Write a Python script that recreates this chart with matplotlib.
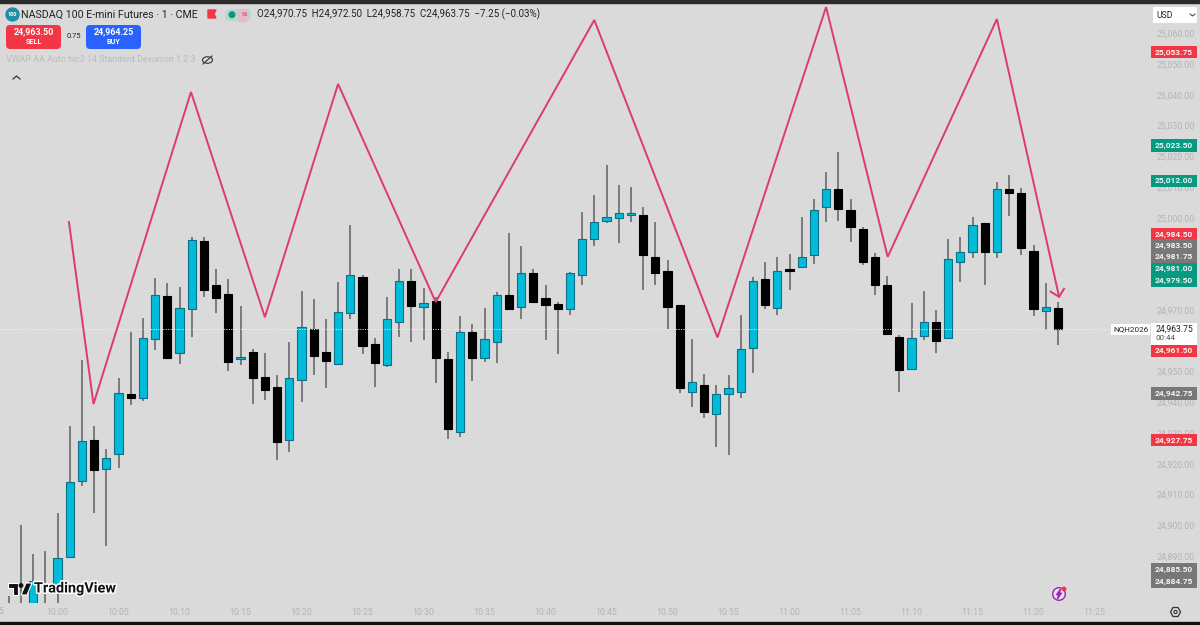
import matplotlib
matplotlib.use("Agg")
import matplotlib.pyplot as plt
import matplotlib.patheffects as pe
from matplotlib.patches import Rectangle, FancyBboxPatch, Circle, Ellipse, Polygon

plt.rcParams['font.family'] = ['Roboto', 'DejaVu Sans']

# minutes after 10:00, one bar per minute
first_minute = -4

opens = [24872, 24873, 24866, 24868, 24880.5,
    24889.75, 24914.5, 24927.75, 24918.25, 24923.25, 24942.75, 24941.5, 24960.75, 24974.5, 24956,
    24970.5, 24992.5, 24978, 24975.25, 24954.25, 24956.5, 24948.25, 24945, 24927.75, 24947.25,
    24963.75, 24956.5, 24952.5, 24969, 24980.75, 24959, 24952, 24966, 24979.5, 24971,
    24973, 24954.25, 24930.5, 24963, 24954.5, 24959.5, 24975, 24971, 24982, 24974,
    24972, 24970.5, 24981.5, 24993, 24999, 25000, 25001, 25001, 24987.25, 24982.75,
    24971.5, 24943.5, 24945.75, 24936.25, 24942.75, 24943.5, 24957.75, 24980.25, 24970.75, 24983.5,
    24984, 24987.75, 25003.5, 25009.25, 25002.5, 24996.25, 24987.25, 24978, 24961.25, 24951,
    24961.5, 24966.25, 24961, 24985.5, 24988.75, 24998.25, 24989, 25009.5, 25008, 24989.25,
    24969.75, 24970.75]
highs = [24877, 24900, 24890.75, 24891.75, 24904,
    24932.25, 24953.75, 24932.25, 24924.75, 24947.75, 24963, 24967.5, 24980.5, 24978.75, 24977.5,
    24993.75, 24993.75, 24983.25, 24980, 24971.25, 24957.5, 24956, 24949, 24959.5, 24976.25,
    24973.75, 24967, 24979.25, 24997.75, 24981.5, 24961, 24974.25, 24983.5, 24983.25, 24977.25,
    24974.25, 24956.5, 24968, 24965.5, 24970.75, 24976, 24995, 24990.75, 24983.5, 24978,
    24972.75, 24982.5, 25001.75, 25007.5, 25017.25, 25010.5, 25010, 25003.5, 24998.5, 24986.25,
    24971.5, 24960.5, 24949.25, 24945.5, 24949, 24968.5, 24980.75, 24985.5, 24987.25, 24988.25,
    25000.25, 25006, 25015, 25021.5, 25006.25, 24997, 24988.5, 24981, 24961.75, 24972.25,
    24976.25, 24970, 24993.25, 24993.75, 25000.25, 24998.25, 25011.75, 25014, 25009.75, 24991.25,
    24978.75, 24972.5]
lows = [24862, 24870, 24864, 24866, 24872,
    24889.75, 24912.75, 24904, 24893.25, 24918.5, 24939, 24940.5, 24957, 24954.5, 24952.5,
    24961.25, 24974.25, 24969, 24950.25, 24952, 24939.5, 24940.75, 24921.25, 24924, 24940.25,
    24949, 24944.75, 24952.5, 24967, 24955.75, 24945, 24951.5, 24961.25, 24959.5, 24960.25,
    24946.25, 24928, 24928.75, 24947, 24953, 24952.75, 24970.5, 24967.25, 24972.75, 24960.25,
    24955.75, 24968.5, 24978, 24990.75, 24998.25, 24991.75, 24998.75, 24976.5, 24978.25, 24964,
    24943, 24938.5, 24934.75, 24925.5, 24922.75, 24941.5, 24949.5, 24970.5, 24968.25, 24976.5,
    24984, 24985, 24998.5, 24999, 24992, 24984.75, 24974.75, 24962.25, 24943.5, 24950.5,
    24960.25, 24956, 24960.5, 24979, 24987, 24978.25, 24987, 25000.5, 24988, 24968,
    24963.5, 24958.75]
closes = [24868, 24871, 24882, 24873, 24889.5,
    24914.25, 24927.5, 24918, 24921.75, 24943, 24941.5, 24961, 24975, 24954.5, 24970.75,
    24992.75, 24976.5, 24974, 24953.25, 24954.75, 24948, 24944, 24927.25, 24948, 24964.5,
    24955, 24953.5, 24969.5, 24981.25, 24958.25, 24952.75, 24967.25, 24979.5, 24971.25, 24972.25,
    24954.5, 24931.25, 24963, 24954.5, 24960.75, 24975, 24970.5, 24982, 24972.75, 24971.75,
    24970.5, 24982, 24993, 24998.5, 25000.25, 25001.5, 25001.5, 24988, 24982, 24971,
    24944.5, 24946.5, 24936.75, 24942.75, 24944.5, 24957.25, 24979.5, 24971.5, 24982.75, 24982.75,
    24987.25, 25002.5, 25009.25, 25002.75, 24997, 24985.75, 24978.25, 24962.25, 24950.5, 24961,
    24966.25, 24960, 24986.5, 24988.75, 24997.5, 24988.75, 25009.25, 25008, 24990.25, 24970.25,
    24971, 24963.75]

# hand drawn zigzag and its arrow head
zz_min = [0.94, 2.95, 10.94, 17, 23, 31, 44, 54.1, 63, 68.05, 77, 82.1]
zz_price = [24998.6, 24939.45, 25040.9, 24967.7, 25043.5, 24972.6, 25064.3, 24961.1, 25068.5, 24987.3, 25064.6, 24974.3]
head_min = [81.4, 82.1, 82.5]
head_price = [24976, 24974.3, 24976.9]

# 24,990 24,980 and 24,960 sit fully behind the price tags in the reference
y_ticks = [25060, 25050, 25040, 25030, 25020, 25010, 25000, 24970, 24950, 24940, 24930, 24920, 24910, 24900, 24890]
x_ticks = list(range(0, 90, 5))
x_labels = [f"{10 + m//60}:{m%60:02d}" for m in x_ticks]

tag_values = [25053.75, 25023.50, 25012.00, 24984.50, 24983.50, 24981.75, 24981.00, 24979.50,
              24961.50, 24942.75, 24927.75, 24885.50, 24884.75]
tag_kinds = ["sell", "buy", "buy", "sell", "gray", "gray", "buy", "buy",
             "sell", "gray", "sell", "gray", "gray"]
# the platform stacks the tags so they do not overlap, so these are pixel rows
tag_rows = [52, 145.5, 181, 234, 245.5, 257, 269, 281, 351, 393.5, 440, 569.5, 581.5]

BG = "#dadada"
TEAL = "#00bcd9"
TEAL_EDGE = "#0d6f86"
PINK = "#de3a6c"
TICK = "#b4b4b4"
SELL = "#f23645"
BUY_BLUE = "#2962ff"
TAG_COL = {"sell": SELL, "buy": "#089981", "gray": "#787878"}

fig = plt.figure(figsize=(12, 6.25), dpi=100, facecolor=BG)

# price pane: pixel x 0..1150, y 3..603
ax = fig.add_axes([0, (625-603)/625, 1150/1200, 600/625], facecolor=BG)
ax.set_xlim(-57.5/12.2, (1150-57.5)/12.2)
ax.set_ylim(25070.8 - 603*0.3251, 25070.8 - 3*0.3251)
for s in ax.spines.values():
    s.set_visible(False)

minutes = [first_minute + i for i in range(len(opens))]
for m, o, h, l, c in zip(minutes, opens, highs, lows, closes):
    up = c >= o
    ax.vlines(m, l, h, color="#606060", lw=1.1, zorder=2)
    ax.bar(m, abs(c-o), bottom=min(o, c), width=0.68, color=TEAL if up else "black",
           edgecolor=TEAL_EDGE if up else "black", lw=0.8, zorder=3)

ax.axhline(closes[-1], color="#f2f2f2", lw=0.7, ls=(0, (1, 1.5)), zorder=4)
ax.plot(zz_min, zz_price, color=PINK, lw=1.4, zorder=5, solid_joinstyle="miter")
ax.plot(head_min, head_price, color=PINK, lw=1.4, zorder=5)

ax.yaxis.tick_right()
ax.set_yticks(y_ticks)
ax.set_yticklabels([f"{v:,.2f}" for v in y_ticks], color=TICK, fontsize=6.3)
ax.set_xticks(x_ticks)
ax.set_xticklabels(x_labels, color=TICK, fontsize=6.3)
ax.tick_params(axis="both", length=0)
ax.tick_params(axis="y", pad=5)
ax.tick_params(axis="x", pad=3.5)

# everything that belongs to the platform window, in pixels
ui = fig.add_axes([0, 0, 1, 1], facecolor="none")
ui.set_xlim(0, 1200)
ui.set_ylim(625, 0)
ui.axis("off")

ui.add_patch(Rectangle((0, 0), 1200, 3, color="#2b2b2b"))
ui.add_patch(Rectangle((0, 622), 1200, 3, color="#111111"))
ui.text(-3.5, 612, "9:55", color=TICK, fontsize=6.3, ha="center", va="center")

def box(x0, y0, w, h, col, r=2):
    ui.add_patch(FancyBboxPatch((x0+r, y0+r), w-2*r, h-2*r, boxstyle=f"round,pad={r},rounding_size={r}",
                                fc=col, ec="none", mutation_aspect=1))

# header
ui.add_patch(Circle((12.5, 14.5), 6.5, color="#1e8fa8"))
ui.text(12.5, 14.7, "100", color="white", fontsize=4, fontweight="bold", ha="center", va="center")
ui.text(21, 14.5, "NASDAQ 100 E-mini Futures · 1 · CME", color="#222222", fontsize=7.7, va="center")
ui.add_patch(Polygon([(208, 10), (216, 10), (214, 14), (216, 18), (208, 18)], color=SELL))
box(225, 9, 26, 12, "#b5d8cf", r=5)
ui.add_patch(Rectangle((238, 9), 8, 12, color="#e8b9c6"))
ui.add_patch(Circle((232, 14.7), 2.8, color="#089981"))
ui.text(244, 14.5, "≈", color="#c23a5e", fontsize=7, ha="center", va="center")
ui.text(257, 14.5, "O24,970.75  H24,972.50  L24,958.75  C24,963.75  −7.25 (−0.03%)", color="#222222",
        fontsize=7.05, va="center")

box(6, 25, 55, 24, SELL, r=4)
ui.text(33.5, 32, "24,963.50", color="white", fontsize=6.4, fontweight="bold", ha="center", va="center")
ui.text(33.5, 41.5, "SELL", color="white", fontsize=5.2, fontweight="bold", ha="center", va="center")
ui.text(73.5, 37, "0.75", color="#222222", fontsize=5.4, ha="center", va="center")
box(86, 25, 55, 24, BUY_BLUE, r=4)
ui.text(113.5, 32, "24,964.25", color="white", fontsize=6.4, fontweight="bold", ha="center", va="center")
ui.text(113.5, 41.5, "BUY", color="white", fontsize=5.2, fontweight="bold", ha="center", va="center")

ui.text(6, 60, "VWAP AA Auto hlc3 14 Standard Deviation 1 2 3", color="#bcbcbc", fontsize=6.4, va="center")
ui.add_patch(Ellipse((207.5, 60), 10, 6.5, fc="none", ec="#333333", lw=0.8))
ui.plot([203, 212], [64, 56], color="#333333", lw=0.8)
ui.plot([13, 16.5, 20], [79, 76, 79], color="#333333", lw=0.9)

# USD box
box(1153, 7, 44, 16, "white", r=1)
ui.text(1156, 15, "USD", color="#222222", fontsize=6.2, va="center")
ui.plot([1190, 1192.5, 1195], [14, 16, 14], color="#333333", lw=0.7)

# price tags
for v, kind, row in zip(tag_values, tag_kinds, tag_rows):
    ui.add_patch(Rectangle((1151, row-6.2), 45.5, 12.4, color=TAG_COL[kind], lw=0))
    ui.text(1174, row, f"{v:,.2f}", color="white", fontsize=6.0, fontweight="bold", ha="center", va="center", alpha=0.92)

# last price tag
ui.add_patch(Rectangle((1111, 324), 39, 11, color="white", lw=0))
ui.text(1130.5, 329.5, "NQH2026", color="#222222", fontsize=5.9, ha="center", va="center")
ui.add_patch(Rectangle((1151, 323), 45.5, 22, color="white", lw=0))
ui.text(1174, 329, f"{closes[-1]:,.2f}", color="#222222", fontsize=6.2, ha="center", va="center")
ui.text(1156, 338.5, "00:44", color="#555555", fontsize=5.8, va="center")

# TradingView mark
halo = [pe.withStroke(linewidth=2.2, foreground="white")]
ui.text(34, 588.5, "TradingView", color="#111111", fontsize=10.4, fontweight="bold", va="center", path_effects=halo)
for pts in ([(8, 583), (18, 583), (18, 595), (13, 595), (13, 588), (8, 588)],
            [(21, 595), (26, 583), (32, 583), (27, 595)]):
    ui.add_patch(Polygon(pts, fc="#111111", ec="white", lw=0.8))
ui.add_patch(Circle((21, 585.5), 2.4, fc="#111111", ec="none"))

# bolt and settings icons
ui.add_patch(Circle((1059, 594), 6.3, fc="#e7dff0", ec="#9c27b0", lw=1.0))
ui.add_patch(Polygon([(1060.5, 589.5), (1056.5, 594.8), (1059, 594.8), (1057.5, 598.5), (1061.5, 593), (1059, 593)], color="#9c27b0"))
ui.add_patch(Circle((1064, 589), 1.7, color=SELL))
ui.add_patch(Polygon([(1170.5, 612), (1173, 607.5), (1178, 607.5), (1180.5, 612), (1178, 616.5), (1173, 616.5)],
                     fc="none", ec="#333333", lw=0.9))
ui.add_patch(Circle((1175.5, 612), 1.6, fc="none", ec="#333333", lw=0.8))

fig.savefig("out.png", dpi=100, facecolor=BG)
